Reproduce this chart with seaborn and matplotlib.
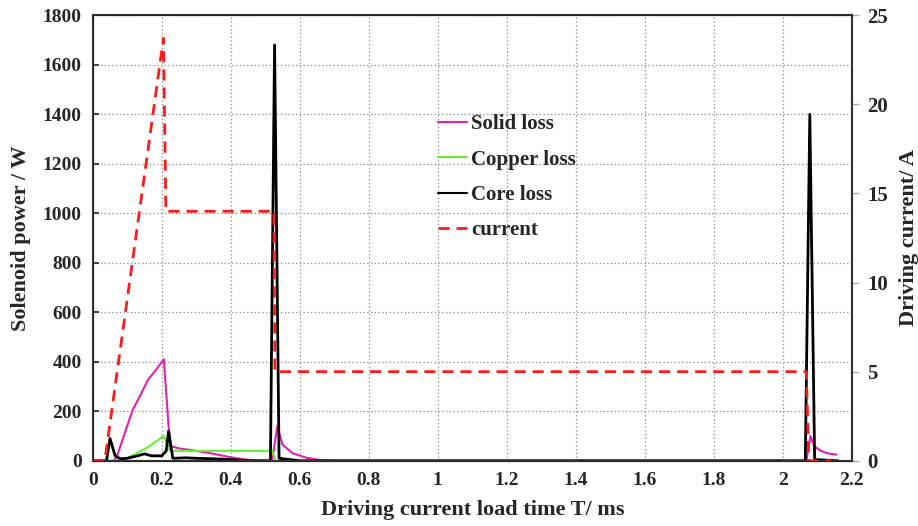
import matplotlib
matplotlib.use("Agg")
import matplotlib.pyplot as plt
import seaborn as sns
from matplotlib.lines import Line2D

# ---- data ----
solid_t = [0.06, 0.07, 0.09, 0.116, 0.14, 0.16, 0.185, 0.206, 0.224, 0.25, 0.3, 0.35, 0.4, 0.45, 0.5, 0.52,
           0.535, 0.55, 0.58, 0.62, 0.66, 0.7, 2.068, 2.08, 2.09, 2.11, 2.13, 2.155]
solid_p = [0, 16, 100, 206, 270, 327, 370, 410, 60, 50, 40, 28, 14, 4, 0, 0,
           140, 65, 30, 12, 3, 0, 0, 100, 60, 40, 30, 25]

copper_t = [0.0, 0.06, 0.09, 0.12, 0.16, 0.206, 0.224, 0.52, 0.53, 2.07]
copper_p = [0, 0, 5, 25, 55, 100, 40, 40, 0, 0]

core_t = [0.0, 0.04, 0.05, 0.065, 0.08, 0.1, 0.13, 0.15, 0.17, 0.2, 0.213, 0.22, 0.232, 0.27, 0.3,
          0.35, 0.4, 0.45, 0.515, 0.527, 0.54, 0.6, 2.065, 2.078, 2.092, 2.16]
core_p = [0, 0, 90, 20, 8, 10, 20, 28, 20, 20, 40, 120, 10, 12, 10,
          8, 5, 0, 0, 1680, 10, 0, 0, 1400, 5, 0]

cur_t = [0.0, 0.035, 0.205, 0.212, 0.525, 0.528, 2.068, 2.075, 2.14]
cur_i = [0, 0, 23.7, 14, 14, 5, 5, 0, 0]

labels = ["Solid loss", "Copper loss", "Core loss", "current"]
colors = ["#e41fb0", "#66ee33", "#000000", "#ff1a1a"]

# ---- style ----
sns.set_style("ticks")
plt.rcParams["font.family"] = ["Liberation Serif", "DejaVu Serif"]
plt.rcParams["font.weight"] = "bold"

fig, ax = plt.subplots(figsize=(9.18, 5.26), dpi=100)
fig.subplots_adjust(left=0.101, right=0.928, top=0.971, bottom=0.124)

sns.lineplot(x=solid_t, y=solid_p, ax=ax, color=colors[0], lw=1.5, sort=False)
sns.lineplot(x=copper_t, y=copper_p, ax=ax, color=colors[1], lw=1.5, sort=False)
sns.lineplot(x=core_t, y=core_p, ax=ax, color=colors[2], lw=2.0, sort=False)

ax2 = ax.twinx()
sns.lineplot(x=cur_t, y=cur_i, ax=ax2, color=colors[3], lw=2.0, sort=False)
ax2.lines[0].set_linestyle((0, (4, 2.5)))

ax.set_xlim(0, 2.2)
ax.set_ylim(0, 1800)
ax2.set_ylim(0, 25)
ax.set_xticks([0, 0.2, 0.4, 0.6, 0.8, 1.0, 1.2, 1.4, 1.6, 1.8, 2.0, 2.2])
ax.set_xticklabels(["0", "0.2", "0.4", "0.6", "0.8", "1", "1.2", "1.4", "1.6", "1.8", "2", "2.2"])
ax.set_yticks(range(0, 1801, 200))
ax2.set_yticks([0, 5, 10, 15, 20, 25])

ax.grid(True, color="#888888", linestyle=(0, (1, 2)), linewidth=0.9)
ax.set_axisbelow(True)

for s in ["left", "right", "top", "bottom"]:
    ax.spines[s].set_visible(True)
    ax.spines[s].set_linewidth(1.5)
    ax.spines[s].set_color("#333333")
ax2.spines["right"].set_linewidth(1.5)
ax2.spines["right"].set_color("#333333")

ax.tick_params(axis="y", labelsize=14, length=4, width=1.2, direction="in", pad=8)
ax.tick_params(axis="x", labelsize=14, length=0, pad=8)
ax2.tick_params(axis="y", labelsize=15, length=5, width=1.0, color="#aaaaaa",
                direction="out", pad=6)
for lab in ax.get_xticklabels() + ax.get_yticklabels() + ax2.get_yticklabels():
    lab.set_fontweight("bold")

ax.set_xlabel("Driving current load time T/ ms", fontsize=16, fontweight="bold", labelpad=8)
ax.set_ylabel("Solenoid power / W", fontsize=16, fontweight="bold", labelpad=8)
ax2.set_ylabel("Driving current/ A", fontsize=16, fontweight="bold", labelpad=8)

handles = [Line2D([0], [0], color=colors[0], lw=1.5),
           Line2D([0], [0], color=colors[1], lw=1.5),
           Line2D([0], [0], color=colors[2], lw=1.5),
           Line2D([0], [0], color=colors[3], lw=2.0, linestyle=(0, (4, 2.5)))]
leg = fig.legend(handles, labels, loc="upper left", bbox_to_anchor=(438 / 918, 0.783),
                 frameon=False, handlelength=1.4, handletextpad=0.2,
                 labelspacing=0.74, borderpad=0, borderaxespad=0,
                 prop={"weight": "bold", "size": 15})

fig.savefig("out.png", dpi=100)
